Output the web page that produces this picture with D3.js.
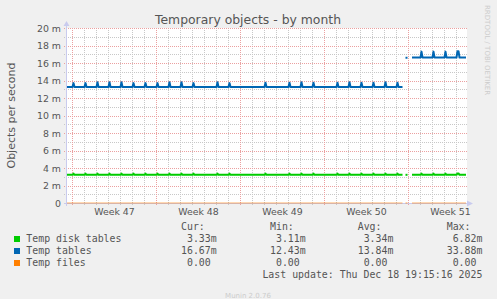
<!DOCTYPE html>
<html><head><meta charset="utf-8">
<script src="https://cdn.jsdelivr.net/npm/d3@7"></script>
<style>
html,body{margin:0;padding:0;background:#f0f0f0;}
svg{display:block}
text{white-space:pre}
</style>
</head><body>
<svg id="chart" width="497" height="299"></svg>
<script>
// ---------- data ----------
const titleText = "Temporary objects - by month";
const yAxisLabel = "Objects per second";
const yTickValues = [0, 2, 4, 6, 8, 10, 12, 14, 16, 18, 20]; // milli-objects/s
const yMinorValues = [1, 3, 5, 7, 9, 11, 13, 15, 17, 19];
const timeStart = "2025-11-16T13:00";
const timeEnd = "2025-12-19T21:00";

const seriesNames = ["Temp disk tables", "Temp tables", "Temp files"];
const seriesColors = ["#00cc00", "#0066b3", "#ff8000"];

// continuous data segments (gaps between them)
const segStarts = ["2025-11-16T13:00", "2025-12-14T18:00", "2025-12-15T07:00"];
const segEnds   = ["2025-12-14T12:00", "2025-12-14T22:00", "2025-12-19T19:00"];
const diskBase   = [3.22, 3.22, 3.22];
const tablesBase = [13.26, 16.6, 16.63];
const filesBase  = [0, 0, 0];

// short daily peaks
const spikeTimes = [
  "2025-11-17T02:00","2025-11-18T02:00","2025-11-19T02:00","2025-11-20T02:00",
  "2025-11-21T02:00","2025-11-22T02:00","2025-11-23T02:00","2025-11-24T02:00",
  "2025-11-25T02:00","2025-11-26T02:00","2025-11-27T02:00","2025-11-29T02:00",
  "2025-11-30T02:00","2025-12-03T02:00","2025-12-05T02:00","2025-12-06T02:00",
  "2025-12-07T02:00","2025-12-09T02:00","2025-12-10T02:00","2025-12-11T02:00",
  "2025-12-12T02:00","2025-12-13T02:00","2025-12-14T02:00","2025-12-16T02:00",
  "2025-12-17T02:00","2025-12-18T02:00","2025-12-19T02:00","2025-12-19T04:00"
];
const tablesSpikes = [13.7,13.7,13.8,13.8,13.8,13.7,13.7,13.7,13.8,13.8,13.7,13.8,
  13.7,13.75,13.75,13.8,13.75,13.75,13.8,13.75,13.75,13.8,13.75,17.3,17.3,17.3,17.35,17.35];
const diskSpikes = [3.36,3.36,3.36,3.36,3.36,3.36,3.36,3.36,3.36,3.36,3.36,3.36,
  3.36,3.36,3.36,3.36,3.36,3.36,3.36,3.36,3.36,3.36,3.36,3.36,3.36,3.36,3.38,3.38];
const filesSpikes = [0,0,0,0,0,0,0,0,0,0,0,0,0,0,0,0,0,0,0,0,0,0,0,0,0,0,0,0];

const curVals = ["3.33m", "16.67m", "0.00"];
const minVals = ["3.11m", "12.43m", "0.00"];
const avgVals = ["3.34m", "13.84m", "0.00"];
const maxVals = ["6.82m", "33.88m", "0.00"];
const lastUpdate = "Last update: Thu Dec 18 19:15:16 2025";
const footer = "Munin 2.0.76";
const sideText = "RRDTOOL / TOBI OETIKER";

// ---------- drawing ----------
const svg = d3.select("#chart");
const W = 497, H = 299;
const plot = {left: 67, right: 467, top: 28, bottom: 203};
const parse = s => new Date(s);

const x = d3.scaleTime().domain([parse(timeStart), parse(timeEnd)]).range([plot.left, plot.right]);
const y = d3.scaleLinear().domain([0, 20]).range([plot.bottom, plot.top]);

svg.append("rect").attr("width", W).attr("height", H).attr("fill", "#f0f0f0");
svg.append("rect").attr("x", plot.left).attr("y", plot.top)
  .attr("width", plot.right - plot.left).attr("height", plot.bottom - plot.top).attr("fill", "#ffffff");

const grid = svg.append("g");
const minorColor = "#c8c8c8", majorColor = "#eba0a0";
// horizontal minor
yMinorValues.forEach(v => {
  grid.append("line").attr("x1", plot.left - 3).attr("x2", plot.right)
    .attr("y1", Math.round(y(v)) + 0.5).attr("y2", Math.round(y(v)) + 0.5)
    .attr("stroke", minorColor).attr("stroke-dasharray", "1,1");
});
// vertical minor (days)
const days = d3.timeDay.range(x.domain()[0], x.domain()[1]);
days.forEach(d => {
  if (d3.timeMonday(d).getTime() === d.getTime()) return;
  const px = Math.floor(x(d)) + 0.5;
  grid.append("line").attr("x1", px).attr("x2", px).attr("y1", plot.top).attr("y2", plot.bottom + 3)
    .attr("stroke", minorColor).attr("stroke-dasharray", "1,1");
});
// horizontal major
yTickValues.forEach(v => {
  grid.append("line").attr("x1", plot.left - 3).attr("x2", plot.right)
    .attr("y1", Math.round(y(v)) + 0.5).attr("y2", Math.round(y(v)) + 0.5)
    .attr("stroke", majorColor).attr("stroke-dasharray", "1,1");
});
// vertical major (weeks)
const mondays = d3.timeMonday.range(x.domain()[0], x.domain()[1]);
mondays.forEach(d => {
  const px = Math.floor(x(d)) + 0.5;
  grid.append("line").attr("x1", px).attr("x2", px).attr("y1", plot.top).attr("y2", plot.bottom + 3)
    .attr("stroke", majorColor).attr("stroke-dasharray", "1,1");
});

// y tick labels
const tickFont = "DejaVu Sans";
yTickValues.forEach(v => {
  svg.append("text").attr("x", 61).attr("y", y(v) + 3.5)
    .attr("text-anchor", "end").attr("font-family", tickFont).attr("font-size", "9.4px")
    .attr("fill", "#555").text(v === 0 ? "0" : v + " m");
});
// x week labels
const fmtWeek = d3.timeFormat("%V");
mondays.forEach(d => {
  const mid = d3.timeHour.offset(d, 84);
  const px = x(mid);
  if (px < plot.left || px > plot.right) return;
  svg.append("text").attr("x", px).attr("y", 215)
    .attr("text-anchor", "middle").attr("font-family", tickFont).attr("font-size", "9.4px")
    .attr("fill", "#555").text("Week " + (+fmtWeek(d)));
});

// axes
const axisColor = "#c9cbee";
svg.append("line").attr("x1", plot.left - 0.5).attr("x2", plot.left - 0.5)
  .attr("y1", plot.bottom + 3).attr("y2", plot.top - 4).attr("stroke", axisColor);
svg.append("path").attr("d", `M${plot.left - 3.5},${plot.top - 2} L${plot.left + 2.5},${plot.top - 2} L${plot.left - 0.5},${plot.top - 7} Z`)
  .attr("fill", axisColor);
svg.append("line").attr("x1", plot.left - 3).attr("x2", plot.right + 2)
  .attr("y1", plot.bottom + 0.5).attr("y2", plot.bottom + 0.5).attr("stroke", axisColor);
svg.append("path").attr("d", `M${plot.right},${plot.bottom - 2.5} L${plot.right},${plot.bottom + 3.5} L${plot.right + 6},${plot.bottom + 0.5} Z`)
  .attr("fill", axisColor);

// build series points from segments + spikes
function buildSegments(base, spikes) {
  const twoH = 2 * 3600 * 1000;
  const spikeT = spikeTimes.map(parse);
  return segStarts.map((s, i) => {
    const t0 = parse(s), t1 = parse(segEnds[i]);
    const pts = new Map();
    pts.set(t0.getTime(), base[i]);
    pts.set(t1.getTime(), base[i]);
    const peakSet = new Set();
    spikeT.forEach((t, k) => {
      if (t < t0 || t > t1) return;
      peakSet.add(t.getTime());
      pts.set(t.getTime(), spikes[k]);
    });
    spikeT.forEach((t, k) => {
      if (t < t0 || t > t1) return;
      [t.getTime() - twoH, t.getTime() + twoH].forEach(tt => {
        if (!peakSet.has(tt) && tt >= t0.getTime() && tt <= t1.getTime()) pts.set(tt, base[i]);
      });
    });
    return Array.from(pts.entries()).sort((a, b) => a[0] - b[0]).map(([t, v]) => ({t: new Date(t), v}));
  });
}
const line = d3.line().x(d => x(d.t)).y(d => y(d.v));
const seriesData = [
  {segs: buildSegments(diskBase, diskSpikes), color: seriesColors[0], w: 2, op: 1},
  {segs: buildSegments(tablesBase, tablesSpikes), color: seriesColors[1], w: 2, op: 1},
  {segs: buildSegments(filesBase, filesSpikes), color: seriesColors[2], w: 1.2, op: 0.6}
];
const gLines = svg.append("g");
[2, 0, 1].forEach(i => {
  const s = seriesData[i];
  s.segs.forEach(seg => {
    gLines.append("path").attr("d", line(seg)).attr("fill", "none")
      .attr("stroke", s.color).attr("stroke-width", s.w).attr("stroke-opacity", s.op)
      .attr("stroke-linejoin", "round");
  });
});

// title
svg.append("text").attr("x", 248).attr("y", 24).attr("text-anchor", "middle")
  .attr("font-family", "DejaVu Sans").attr("font-size", "12.4px").attr("fill", "#555").text(titleText);
// y axis label
svg.append("text").attr("transform", `translate(15,${(plot.top + plot.bottom) / 2}) rotate(-90)`)
  .attr("text-anchor", "middle").attr("font-family", "DejaVu Sans").attr("font-size", "11px")
  .attr("fill", "#555").text(yAxisLabel);
// side text
svg.append("text").attr("transform", "translate(485,5) rotate(90)")
  .attr("font-family", "DejaVu Sans").attr("font-size", "7px").attr("fill", "#cccccc").text(sideText);

// legend
const mono = "DejaVu Sans Mono";
const lfs = "9.9px";
const colHeaders = ["Cur:", "Min:", "Avg:", "Max:"];
const colX = [181, 270, 357.7, 446.7];
const colVals = [curVals, minVals, avgVals, maxVals];
const charW = 5.96;
colHeaders.forEach((h, j) => {
  svg.append("text").attr("x", colX[j]).attr("y", 230).attr("font-family", mono).attr("font-size", lfs)
    .attr("fill", "#555").text(h);
});
seriesNames.forEach((n, i) => {
  const by = 242 + i * 12;
  svg.append("rect").attr("x", 14).attr("y", by - 6).attr("width", 6).attr("height", 6).attr("fill", seriesColors[i]);
  svg.append("text").attr("x", 26.3).attr("y", by).attr("font-family", mono).attr("font-size", lfs)
    .attr("fill", "#555").text(n);
  colVals.forEach((vals, j) => {
    const v = vals[i];
    const right = colX[j] + 35.7 - (v.endsWith("m") ? 0 : charW);
    svg.append("text").attr("x", right).attr("y", by).attr("text-anchor", "end")
      .attr("font-family", mono).attr("font-size", lfs).attr("fill", "#555").text(v);
  });
});
svg.append("text").attr("x", 482.4).attr("y", 278).attr("text-anchor", "end")
  .attr("font-family", mono).attr("font-size", lfs).attr("fill", "#555").text(lastUpdate);
svg.append("text").attr("x", 248).attr("y", 298).attr("text-anchor", "middle")
  .attr("font-family", "DejaVu Sans").attr("font-size", "7px").attr("fill", "#cccccc").text(footer);
</script>
</body></html>
